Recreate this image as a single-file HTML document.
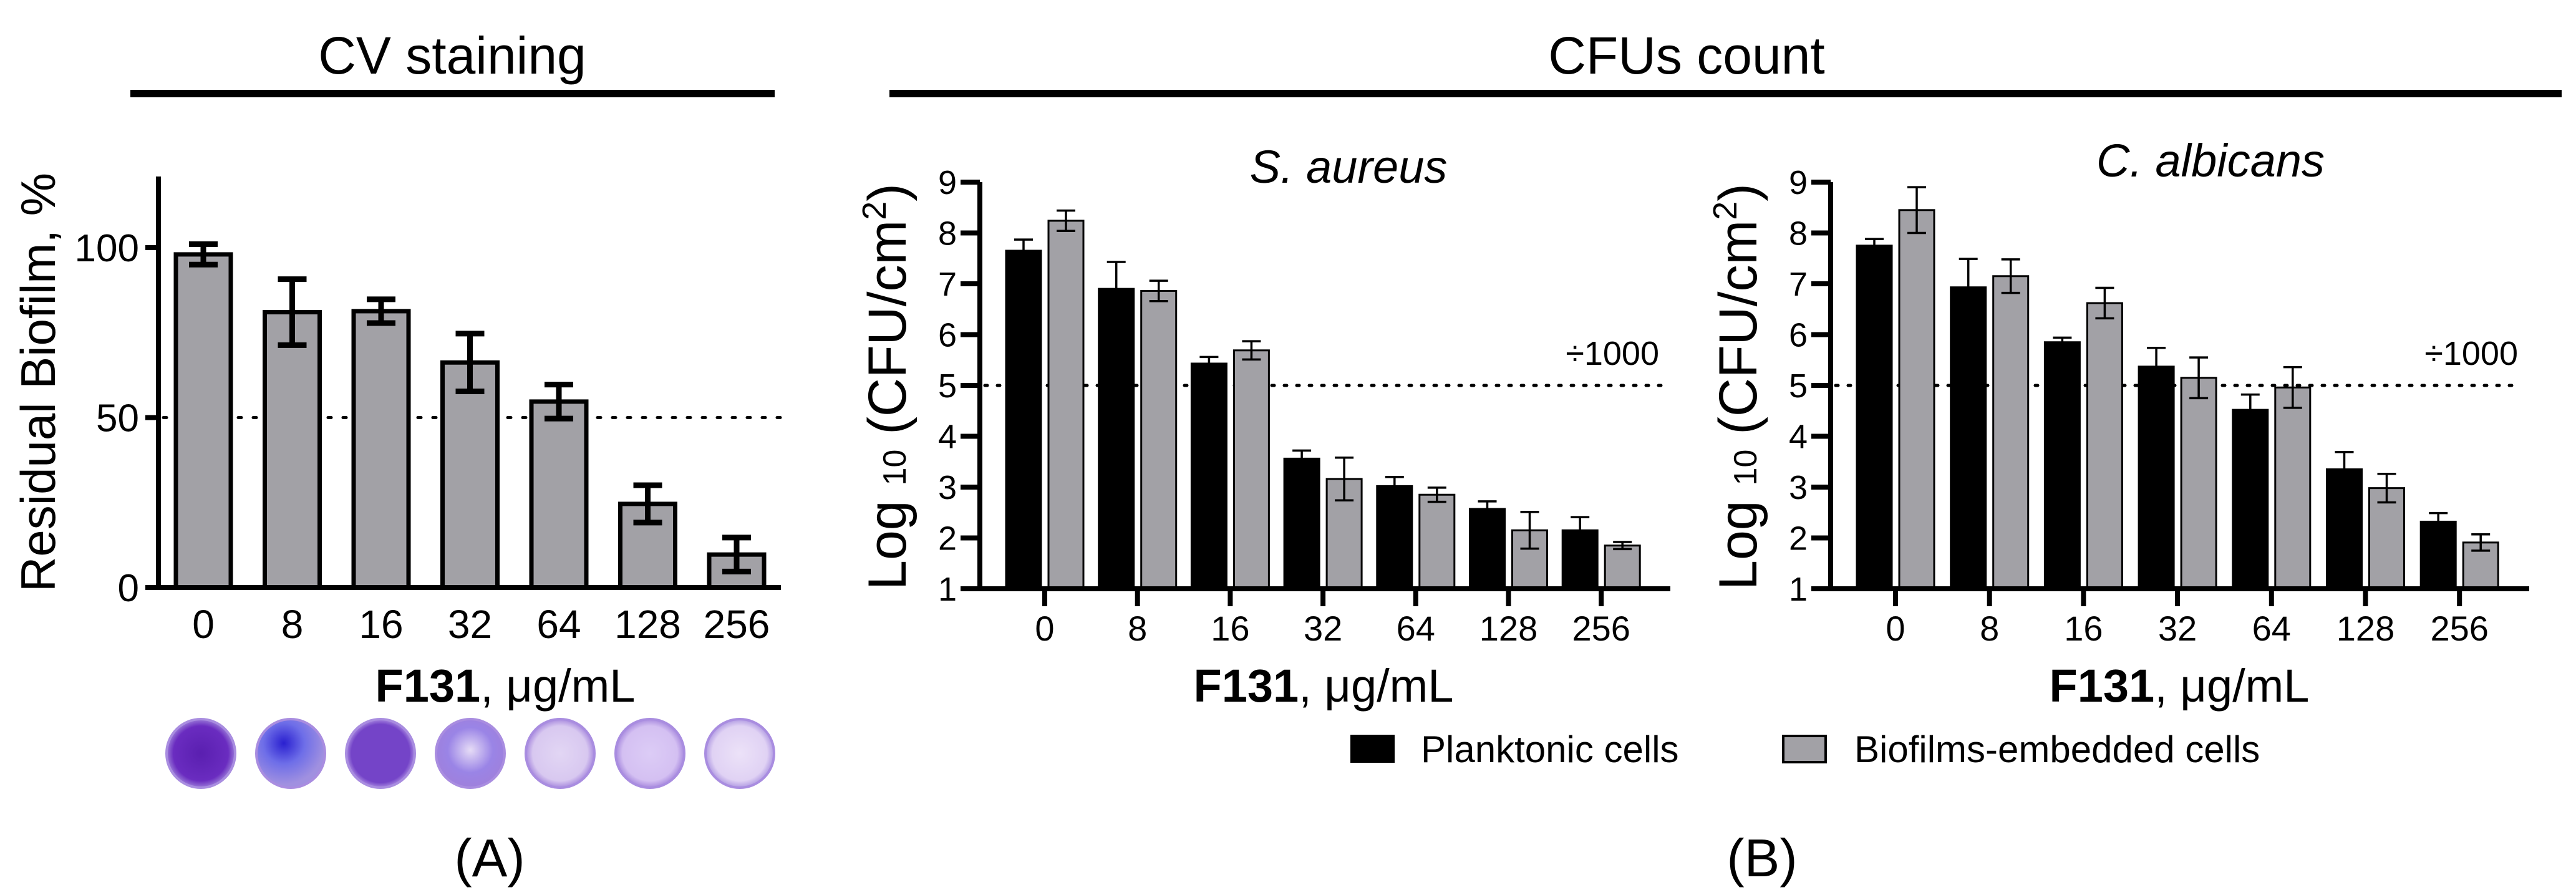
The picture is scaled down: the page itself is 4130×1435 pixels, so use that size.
<!DOCTYPE html>
<html><head><meta charset="utf-8">
<style>
html,body{margin:0;padding:0;background:#fff;}
svg{display:block;font-family:"Liberation Sans",Arial,sans-serif;}
</style></head>
<body>
<svg id="fig" width="4130" height="1435" viewBox="0 0 4130 1435" xmlns="http://www.w3.org/2000/svg">
<defs>
<radialGradient id="w0" cx="50%" cy="50%" r="50%"><stop offset="0" stop-color="#5a1fb0"/><stop offset="0.8" stop-color="#6a2cc0"/><stop offset="1" stop-color="#9a7ad8"/></radialGradient>
<radialGradient id="w1" cx="40%" cy="35%" r="60%"><stop offset="0" stop-color="#2a20d0"/><stop offset="0.5" stop-color="#6e6ee8"/><stop offset="1" stop-color="#a090e0"/></radialGradient>
<radialGradient id="w2" cx="50%" cy="50%" r="50%"><stop offset="0" stop-color="#7444c8"/><stop offset="0.85" stop-color="#7444c8"/><stop offset="1" stop-color="#a888e0"/></radialGradient>
<radialGradient id="w3" cx="50%" cy="45%" r="55%"><stop offset="0" stop-color="#e6dcf6"/><stop offset="0.6" stop-color="#9a84e6"/><stop offset="1" stop-color="#9f80dc"/></radialGradient>
<radialGradient id="w4" cx="50%" cy="50%" r="50%"><stop offset="0" stop-color="#e2d6f4"/><stop offset="0.8" stop-color="#d8c8f0"/><stop offset="1" stop-color="#a88ade"/></radialGradient>
<radialGradient id="w5" cx="50%" cy="50%" r="50%"><stop offset="0" stop-color="#dcccf6"/><stop offset="0.8" stop-color="#d4c0f2"/><stop offset="1" stop-color="#a88ade"/></radialGradient>
<radialGradient id="w6" cx="50%" cy="50%" r="50%"><stop offset="0" stop-color="#ece2f8"/><stop offset="0.8" stop-color="#e0d2f4"/><stop offset="1" stop-color="#b09ae2"/></radialGradient>
</defs>

<text x="725" y="118" font-size="84" text-anchor="middle">CV staining</text>
<rect x="209" y="144" width="1033" height="12" fill="#000"/>
<text x="2704" y="118" font-size="84" text-anchor="middle">CFUs count</text>
<rect x="1426" y="144" width="2681" height="12" fill="#000"/>

<text x="785" y="1405" font-size="85" text-anchor="middle">(A)</text>
<text x="2825" y="1405" font-size="85" text-anchor="middle">(B)</text>

<g id="panelA"></g>
<text transform="translate(88,613) rotate(-90)" font-size="78" text-anchor="middle">Residual Biofilm, %</text>
<text x="810" y="1125" font-size="74" text-anchor="middle"><tspan font-weight="bold">F131</tspan>, μg/mL</text>
<g id="wells"></g>

<g id="panelB1"></g>
<g id="panelB2"></g>
<text x="2162" y="293" font-size="74" font-style="italic" text-anchor="middle">S. aureus</text>
<text x="3544" y="283" font-size="74" font-style="italic" text-anchor="middle">C. albicans</text>
<text transform="translate(1452,620) rotate(-90)" font-size="86" text-anchor="middle">Log <tspan font-size="52">10</tspan> (CFU/cm<tspan font-size="54" dy="-32">2</tspan><tspan dy="32">)</tspan></text>
<text transform="translate(2816,620) rotate(-90)" font-size="86" text-anchor="middle">Log <tspan font-size="52">10</tspan> (CFU/cm<tspan font-size="54" dy="-32">2</tspan><tspan dy="32">)</tspan></text>
<text x="2122" y="1125" font-size="74" text-anchor="middle"><tspan font-weight="bold">F131</tspan>, μg/mL</text>
<text x="3494" y="1125" font-size="74" text-anchor="middle"><tspan font-weight="bold">F131</tspan>, μg/mL</text>

<rect x="2165" y="1178" width="71" height="45" fill="#000"/>
<text x="2278" y="1222" font-size="60">Planktonic cells</text>
<rect x="2859" y="1180" width="68" height="42" fill="#a2a1a6" stroke="#000" stroke-width="4"/>
<text x="2973" y="1222" font-size="60">Biofilms-embedded cells</text>
</svg>

<script>
const categories = ["0","8","16","32","64","128","256"];
const cvValues = [98, 81, 81.3, 66.2, 54.7, 24.6, 9.7];
const cvErrors = [3, 9.7, 3.5, 8.5, 5, 5.5, 5];
const cvTicks = [0, 50, 100];
const saPlank = [7.65, 6.9, 5.43, 3.56, 3.02, 2.57, 2.15];
const saPlankErr = [0.22, 0.53, 0.13, 0.16, 0.18, 0.15, 0.26];
const saBio = [8.24, 6.86, 5.69, 3.16, 2.85, 2.15, 1.85];
const saBioErr = [0.2, 0.2, 0.18, 0.42, 0.14, 0.36, 0.07];
const caPlank = [7.75, 6.93, 5.85, 5.37, 4.52, 3.35, 2.32];
const caPlankErr = [0.13, 0.56, 0.09, 0.37, 0.3, 0.34, 0.17];
const caBio = [8.45, 7.15, 6.62, 5.15, 4.96, 2.98, 1.91];
const caBioErr = [0.45, 0.33, 0.3, 0.4, 0.4, 0.28, 0.16];
const logTicks = [1,2,3,4,5,6,7,8,9];
const wellFills = ["url(#w0)","url(#w1)","url(#w2)","url(#w3)","url(#w4)","url(#w5)","url(#w6)"];

const NS = "http://www.w3.org/2000/svg";
function mk(parent, tag, attrs){
  const e = document.createElementNS(NS, tag);
  for (const k in attrs) e.setAttribute(k, attrs[k]);
  parent.appendChild(e);
  return e;
}
const GREY = "#a2a1a6";

(function(){
  const g = document.getElementById("panelA");
  const y = v => 942 - v * 5.45;
  const x = i => 326 + i * 142.5;
  let l = mk(g, "line", {x1:262, x2:1252, y1:y(50), y2:y(50), stroke:"#000", "stroke-width":5, "stroke-dasharray":"5 19", "stroke-linecap":"round"});
  
  
  categories.forEach((c, i) => {
    const r = mk(g, "rect", {x:x(i)-44, y:y(cvValues[i]), width:88, height:942-y(cvValues[i]), fill:GREY, stroke:"#000", "stroke-width":7});
    
    
    const top = y(cvValues[i] + cvErrors[i]), bot = y(cvValues[i] - cvErrors[i]);
    const eb = mk(g, "path", {d:`M${x(i)},${top}V${bot}M${x(i)-23},${top}H${x(i)+23}M${x(i)-23},${bot}H${x(i)+23}`, stroke:"#000", "stroke-width":9, fill:"none"});
    
    
    const t = mk(g, "text", {x:x(i), y:1023, "font-size":64, "text-anchor":"middle"});
    t.textContent = c;
    
    
  });
  const ax = mk(g, "path", {d:`M254,283V946M233,942H1252`, stroke:"#000", "stroke-width":8, fill:"none"});
  
  
  cvTicks.forEach(v => {
    const tk = mk(g, "line", {x1:233, x2:254, y1:y(v), y2:y(v), stroke:"#000", "stroke-width":8});
    
    
    const t = mk(g, "text", {x:223, y:y(v)+22, "font-size":62, "text-anchor":"end"});
    t.textContent = v;
    
    
  });
  const wg = document.getElementById("wells");
  categories.forEach((c, i) => {
    const cx = 322 + i * 144;
    const w = mk(wg, "circle", {cx:cx, cy:1208, r:55, fill:wellFills[i], stroke:"#a98de0", "stroke-width":4});
    
    
  });
})();

function cfuChart(gid, axisX, xStart, xEnd, tick0, tickStep, plank, plankErr, bio, bioErr, prefix){
  const g = document.getElementById(gid);
  const y = v => 944 - (v - 1) * 81.5;
  const x = i => tick0 + i * tickStep;
  const dl = mk(g, "line", {x1:axisX+8, x2:xEnd-12, y1:y(5), y2:y(5), stroke:"#000", "stroke-width":5, "stroke-dasharray":"4 16", "stroke-linecap":"round"});
  
  
  const lbl = mk(g, "text", {x:xEnd-18, y:y(5)-33, "font-size":54, "text-anchor":"end"});
  lbl.textContent = "÷1000";
  
  
  categories.forEach((c, i) => {
    [[plank, plankErr, -34, "#000", "planktonic"], [bio, bioErr, 34, GREY, "biofilm"]].forEach(s => {
      const v = s[0][i], e = s[1][i], cx = x(i) + s[2];
      const r = mk(g, "rect", {x:cx-28, y:y(v), width:56, height:944-y(v), fill:s[3], stroke:"#000", "stroke-width":3});
      
      
      const top = y(v + e), bot = y(v - e);
      const eb = mk(g, "path", {d:`M${cx},${top}V${bot}M${cx-15},${top}H${cx+15}M${cx-15},${bot}H${cx+15}`, stroke:"#000", "stroke-width":3.5, fill:"none"});
      
      
    });
    const xt = mk(g, "line", {x1:x(i), x2:x(i), y1:944, y2:972, stroke:"#000", "stroke-width":8});
    
    
    const t = mk(g, "text", {x:x(i), y:1027, "font-size":56, "text-anchor":"middle"});
    t.textContent = c;
    
    
  });
  const ax = mk(g, "path", {d:`M${axisX},${y(9)}V948M${xStart},944H${xEnd}`, stroke:"#000", "stroke-width":8, fill:"none"});
  
  
  logTicks.forEach(v => {
    const tk = mk(g, "line", {x1:axisX-31, x2:axisX, y1:y(v), y2:y(v), stroke:"#000", "stroke-width":8});
    
    
    const t = mk(g, "text", {x:axisX-37, y:y(v)+19, "font-size":54, "text-anchor":"end"});
    t.textContent = v;
    
    
  });
}
cfuChart("panelB1", 1571, 1541, 2678, 1675, 148.7, saPlank, saPlankErr, saBio, saBioErr, "s-aureus");
cfuChart("panelB2", 2935, 2905, 4055, 3039, 150.7, caPlank, caPlankErr, caBio, caBioErr, "c-albicans");
</script>
</body></html>
